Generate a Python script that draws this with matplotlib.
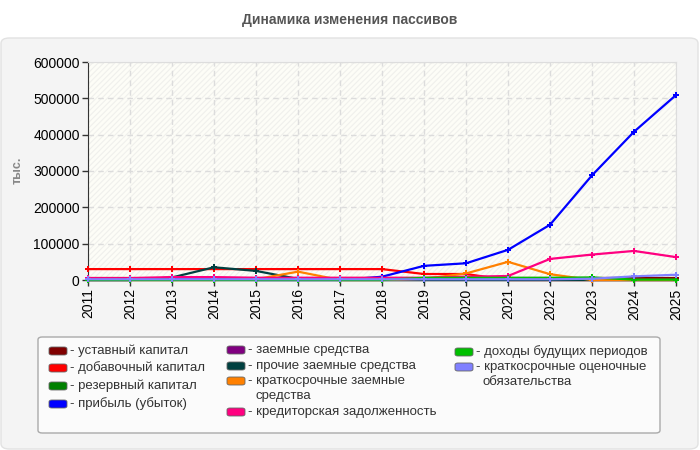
import matplotlib
matplotlib.use("Agg")
import matplotlib.pyplot as plt
from matplotlib.patches import FancyBboxPatch

plt.rcParams['font.family'] = ['Liberation Sans', 'DejaVu Sans']
plt.rcParams['hatch.color'] = '#f0f0ec'
plt.rcParams['hatch.linewidth'] = 0.8

# Данные (тыс.)
years = list(range(2011, 2026))
ustav = [5000] * 15
dobav = [30000, 30000, 30000, 30000, 30000, 30000, 30000, 30000, 16500, 16500, 0, 0, 0, 0, 0]
rezerv = [0] * 15
pribyl = [0, 0, 4500, 4500, 0, 0, 0, 9000, 39000, 46000, 83000, 152000, 288000, 408000, 509000]
zaem = [0] * 15
prochie = [0, 0, 7000, 35000, 25000, 3000, 0, 0, 0, 0, 0, 0, 0, 0, 0]
kratk_zaem = [0, 0, 0, 0, 2000, 23000, 0, 0, 3000, 18000, 50000, 16000, 0, 0, 0]
kredit = [5000, 5000, 8000, 8000, 6000, 6000, 6000, 6000, 6000, 9000, 11000, 58000, 70000, 80000, 63000]
dohody = [0, 0, 0, 0, 0, 0, 0, 0, 6000, 6000, 6000, 6000, 7000, 1000, 1000]
ocenoch = [2000] * 12 + [3500, 10000, 14500]

series = [
    ("уставный капитал", ustav, "#800000"),
    ("добавочный капитал", dobav, "#ff0000"),
    ("резервный капитал", rezerv, "#008000"),
    ("прибыль (убыток)", pribyl, "#0000ff"),
    ("заемные средства", zaem, "#800080"),
    ("прочие заемные средства", prochie, "#004040"),
    ("краткосрочные заемные\nсредства", kratk_zaem, "#ff8000"),
    ("кредиторская задолженность", kredit, "#ff0080"),
    ("доходы будущих периодов", dohody, "#00c000"),
    ("краткосрочные оценочные\nобязательства", ocenoch, "#8080ff"),
]

fig = plt.figure(figsize=(7, 4.5), dpi=100)
fig.patch.set_facecolor("white")

W, H = 700, 450
def fx(px):
    return px / W
def fy(py):
    return 1 - py / H

# серая подложка
panel = FancyBboxPatch((fx(1), fy(449)), fx(697), (448 - 37) / H,
                       boxstyle="round,pad=0,rounding_size=0.012",
                       transform=fig.transFigure, facecolor="#f4f4f4",
                       edgecolor="#e2e2e2", linewidth=1, zorder=-10)
fig.patches.append(panel)

fig.text(0.5, fy(20), "Динамика изменения пассивов", ha="center", va="center",
         fontsize=10, fontweight="bold", color="#555555")

ax = fig.add_axes([fx(88), fy(280), fx(676 - 88), (280 - 62) / H])
ax.set_facecolor("#fdfdf7")
ax.patch.set_hatch("//////")
ax.patch.set_edgecolor("#f0f0ec")

for name, vals, color in series:
    ax.plot(years, vals, color=color, linewidth=1.6, marker="P",
            markersize=4.5, markeredgewidth=0, zorder=3, clip_on=False)

ax.set_xlim(2011, 2025)
ax.set_ylim(0, 600000)
ax.set_xticks(years)
ax.set_xticklabels([str(y) for y in years], rotation=90, fontsize=10)
ax.set_yticks(range(0, 600001, 100000))
ax.set_yticklabels([str(v) for v in range(0, 600001, 100000)], fontsize=10)
ax.tick_params(direction="out", length=4, width=1, color="#333333", pad=2)
ax.grid(True, linestyle=(0, (4, 3)), color="#dcdcdc", linewidth=1, zorder=1)
ax.set_axisbelow(True)
for s in ["top", "right"]:
    ax.spines[s].set_color("#dddddd")
for s in ["left", "bottom"]:
    ax.spines[s].set_color("#333333")

fig.text(fx(18), fy(170), "тыс.", rotation=90, ha="center", va="center",
         fontsize=9, fontweight="bold", color="#888888")

# легенда
leg_box = FancyBboxPatch((fx(38), fy(433)), fx(660 - 38), (433 - 337) / H,
                         boxstyle="round,pad=0,rounding_size=0.006",
                         transform=fig.transFigure, facecolor="#fbfbfb",
                         edgecolor="#aaaaaa", linewidth=1, zorder=1)
fig.patches.append(leg_box)

leg_pos = [
    (49, 351), (49, 368), (49, 386), (49, 404),
    (227, 350), (227, 366), (227, 381), (227, 412),
    (455, 352), (455, 367),
]
for (name, vals, color), (px, py) in zip(series, leg_pos):
    p = FancyBboxPatch((fx(px), fy(py + 4)), fx(18), 8 / H,
                       boxstyle="round,pad=0,rounding_size=0.004",
                       transform=fig.transFigure, facecolor=color,
                       edgecolor="#666666", linewidth=0.6, zorder=2)
    fig.patches.append(p)
    lines = name.split("\n")
    fig.text(fx(px + 21), fy(py), "- " + lines[0], ha="left", va="center",
             fontsize=9.5, color="#333333")
    if len(lines) > 1:
        fig.text(fx(px + 28), fy(py + 15), lines[1], ha="left", va="center",
                 fontsize=9.5, color="#333333")

fig.savefig("out.png", dpi=100)
